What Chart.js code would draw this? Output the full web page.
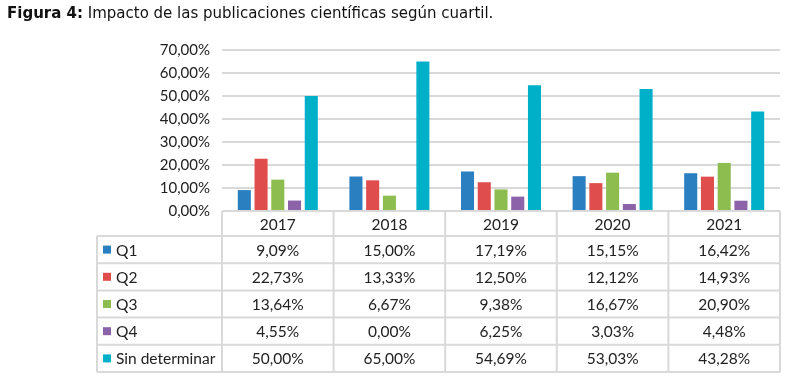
<!DOCTYPE html>
<html>
<head>
<meta charset="utf-8">
<script src="https://cdn.jsdelivr.net/npm/chart.js"></script>
<style>
  body { margin: 0; background: #fff; }
  #wrap { position: relative; width: 800px; height: 384px; }
  #title { position: absolute; left: 7px; top: 4px; font-family: "DejaVu Sans", Verdana, sans-serif; font-size: 15px; color: #111; }
</style>
</head>
<body>
<div id="wrap">
  <div id="title"><b>Figura 4:</b> Impacto de las publicaciones científicas según cuartil.</div>
  <canvas id="cuartiles" width="800" height="384"></canvas>
</div>
<script>
var years = ["2017", "2018", "2019", "2020", "2021"];
var seriesNames = ["Q1", "Q2", "Q3", "Q4", "Sin determinar"];
var q1 = [9.09, 15.00, 17.19, 15.15, 16.42];
var q2 = [22.73, 13.33, 12.50, 12.12, 14.93];
var q3 = [13.64, 6.67, 9.38, 16.67, 20.90];
var q4 = [4.55, 0.00, 6.25, 3.03, 4.48];
var sinDet = [50.00, 65.00, 54.69, 53.03, 43.28];
var colors = ["#2a7fc1", "#e04d4d", "#8dbd4f", "#8c63a8", "#00b0c8"];

function pct(v) {
    return v.toFixed(2).replace(".", ",") + "%";
}

var allSeries = [q1, q2, q3, q4, sinDet];
var datasets = allSeries.map(function (vals, i) {
    return {
        label: seriesNames[i],
        data: vals,
        backgroundColor: colors[i],
        borderWidth: 0,
        categoryPercentage: 0.75,
        barPercentage: 0.78
    };
});

var GRID = "#d9d9d9";
var TABLE_LEFT = 97;
var HEADER_H = 25;
var ROW_H = 27.2;

// draws the data table under the plot, using the x scale for columns
var dataTable = {
    id: "dataTable",
    afterDraw: function (chart) {
        var ctx = chart.ctx;
        var x = chart.scales.x;
        var area = chart.chartArea;
        var top = area.bottom;
        var half = (x.getPixelForValue(1) - x.getPixelForValue(0)) / 2;
        var edges = [area.left];
        years.forEach(function (y, i) { edges.push(x.getPixelForValue(i) + half); });
        var right = area.right;
        var bottom = top + HEADER_H + ROW_H * seriesNames.length;

        ctx.save();
        ctx.strokeStyle = GRID;
        ctx.lineWidth = 2;
        ctx.beginPath();
        // header row
        ctx.moveTo(area.left, top); ctx.lineTo(right, top);
        edges.forEach(function (e) { ctx.moveTo(e, top); ctx.lineTo(e, bottom); });
        // body rows
        for (var r = 0; r <= seriesNames.length; r++) {
            var yy = top + HEADER_H + r * ROW_H;
            ctx.moveTo(TABLE_LEFT, yy); ctx.lineTo(right, yy);
        }
        ctx.moveTo(TABLE_LEFT, top + HEADER_H); ctx.lineTo(TABLE_LEFT, bottom);
        ctx.stroke();

        ctx.fillStyle = "#222";
        ctx.font = "15.5px Lato, sans-serif";
        ctx.textBaseline = "middle";
        ctx.textAlign = "center";
        years.forEach(function (y, i) {
            ctx.fillText(y, x.getPixelForValue(i), top + HEADER_H / 2 + 1);
        });
        seriesNames.forEach(function (name, r) {
            var cy = top + HEADER_H + r * ROW_H + ROW_H / 2 + 1;
            ctx.fillStyle = colors[r];
            ctx.fillRect(TABLE_LEFT + 6, cy - 5, 8, 8);
            ctx.fillStyle = "#222";
            ctx.textAlign = "left";
            ctx.fillText(name, TABLE_LEFT + 19, cy);
            ctx.textAlign = "center";
            allSeries[r].forEach(function (v, i) {
                ctx.fillText(pct(v), x.getPixelForValue(i), cy);
            });
        });
        ctx.restore();
    }
};

new Chart(document.getElementById("cuartiles").getContext("2d"), {
    type: "bar",
    data: { labels: years, datasets: datasets },
    options: {
        responsive: false,
        animation: false,
        layout: { padding: { left: 0, right: 20, top: 50, bottom: 173 } },
        scales: {
            x: { display: false },
            y: {
                min: 0,
                max: 70,
                afterFit: function (s) { s.width = 222; },
                ticks: {
                    stepSize: 10,
                    padding: 12,
                    color: "#222",
                    font: { family: "Lato, sans-serif", size: 15 },
                    callback: function (v) { return pct(v); }
                },
                grid: { color: GRID, lineWidth: 2, drawTicks: false },
                border: { display: false }
            }
        },
        plugins: {
            legend: { display: false },
            tooltip: { enabled: false }
        }
    },
    plugins: [dataTable]
});
</script>
</body>
</html>
